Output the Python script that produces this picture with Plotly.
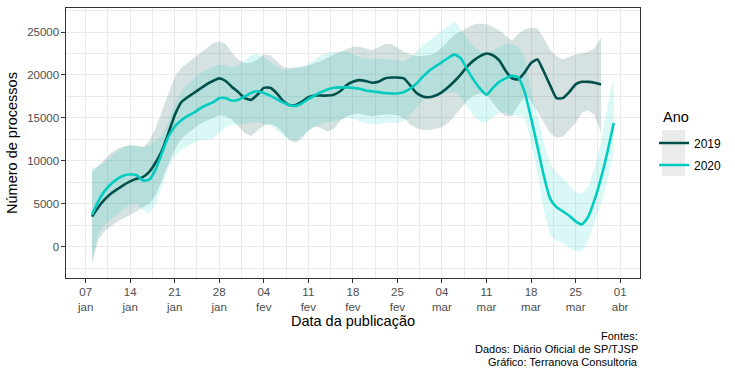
import pandas as pd
import plotly.graph_objects as go

# ---- data (values in number of processes; 2020 mapped onto the 2019 calendar) ----
dates_2019 = pd.date_range("2019-01-08", "2019-03-29", freq="D")
dates_2020 = pd.date_range("2019-01-08", "2019-03-31", freq="D")

mean_2019 = [3500, 4600, 5500, 6200, 6700, 7200, 7600, 7900, 8100, 8700,
             9800, 11200, 13200, 15300, 16800, 17400, 17900, 18400, 18900, 19300,
             19600, 19300, 18600, 18000, 17300, 17100, 17700, 18500, 18500, 17900,
             17000, 16500, 16500, 16900, 17400, 17600, 17600, 17600, 17700, 18100,
             18800, 19200, 19400, 19300, 19100, 19200, 19600, 19700, 19700, 19600,
             18800, 17900, 17500, 17400, 17600, 18000, 18600, 19300, 20100, 21000,
             21700, 22200, 22500, 22300, 21700, 20500, 19600, 19500, 20300, 21400,
             21800, 20400, 18800, 17300, 17300, 18000, 18900, 19200, 19200, 19100,
             18900]

lower_2019 = [-2000, 800, 1800, 2400, 2900, 3300, 3700, 4100, 4600, 5000,
              6000, 7800, 9600, 11300, 12500, 13200, 13800, 14300, 14700, 15000,
              15300, 15200, 14800, 14000, 13200, 12900, 13500, 14100, 14300, 14000,
              13300, 12400, 12100, 12600, 13500, 14000, 13800, 13400, 13700, 14600,
              15200, 15400, 15500, 15300, 15200, 15300, 15400, 15400, 15300, 15000,
              14200, 13800, 13600, 13600, 13700, 13900, 14400, 15200, 16100, 17000,
              17600, 17800, 17700, 16800, 15800, 15200, 15200, 16500, 17500, 17000,
              15800, 14500, 13200, 12700, 12800, 13600, 14400, 15600, 15900, 15300,
              13200]

upper_2019 = [8700, 9400, 10200, 10900, 11400, 11700, 11800, 11700, 11600, 12300,
              13800, 15800, 17800, 19800, 20800, 21400, 22000, 22500, 23100, 23700,
              23900, 23600, 22600, 21800, 21400, 21400, 21800, 22400, 22300, 21600,
              21000, 20800, 20900, 20900, 21100, 21400, 21600, 22000, 22400, 22700,
              23000, 23300, 23300, 23100, 22900, 23200, 23600, 23600, 23200, 22700,
              22400, 22200, 22200, 22300, 22600, 23200, 24000, 24700, 25100, 25500,
              25900, 26000, 25900, 25600, 25200, 24600, 24000, 24800, 25300, 25500,
              25400, 24300, 22900, 22200, 21800, 22100, 22400, 22500, 22700, 23100,
              24400]

mean_2020 = [3700, 5300, 6500, 7300, 7900, 8300, 8400, 8350, 7700, 7800,
             9000, 10900, 12800, 14000, 14700, 15200, 15600, 16100, 16500, 16800,
             17300, 17300, 17000, 17100, 17500, 17900, 18100, 17900, 17600, 17200,
             16800, 16500, 16400, 16700, 17200, 17600, 18000, 18300, 18500, 18550,
             18550, 18500, 18400, 18200, 18100, 18000, 17900, 17850, 17850, 18000,
             18400, 19000, 19800, 20500, 21000, 21500, 22000, 22400, 21900, 20600,
             19400, 18400, 17700, 18500, 19200, 19600, 19900, 19700, 18000, 15000,
             11700, 8300, 5600, 4600, 4100, 3600, 2950, 2600, 3500, 5500,
             8000, 11000, 14400]

lower_2020 = [-1500, 1500, 2600, 3200, 3800, 4400, 4900, 5000, 4300, 3800,
              5000, 7000, 9200, 10600, 11300, 11700, 12100, 12400, 12500, 12600,
              13300, 13900, 14200, 14300, 14300, 14500, 14500, 14300, 14100, 13600,
              13000, 12500, 12400, 12900, 13600, 14000, 14300, 14500, 14600, 14800,
              15000, 14900, 14600, 14400, 14300, 14300, 14400, 14400, 14400, 14600,
              15300, 16200, 17000, 17500, 17700, 17800, 17900, 18000, 17400, 16200,
              15200, 14600, 14400, 15100, 15600, 15600, 15300, 15200, 15000, 12200,
              8600, 4200, 1400, 700, 400, -100, -500, -600, 800, 3000,
              5000, 7600, 11100]

upper_2020 = [9200, 9300, 9800, 10500, 11100, 11600, 11800, 11800, 11600, 11700,
              12300, 13000, 14500, 16600, 18100, 19000, 19600, 20200, 20600, 21000,
              21200, 21100, 20900, 21100, 21700, 22300, 22500, 22100, 21500, 20900,
              20600, 20600, 20800, 21000, 21300, 21800, 22300, 22600, 22700, 22700,
              22700, 22400, 22100, 21900, 21900, 21900, 21800, 21800, 21700, 21600,
              22000, 22800, 23500, 24000, 24600, 25200, 25800, 26300, 25300, 24200,
              23300, 22800, 22500, 22800, 23300, 23600, 23600, 23300, 22000, 18300,
              15300, 12100, 9700, 8600, 8000, 7200, 6400, 6200, 7000, 9200,
              12200, 16200, 20000]

tick_dates = ["2019-01-07", "2019-01-14", "2019-01-21", "2019-01-28", "2019-02-04",
              "2019-02-11", "2019-02-18", "2019-02-25", "2019-03-04", "2019-03-11",
              "2019-03-18", "2019-03-25", "2019-04-01"]
tick_labels = ["07<br>jan", "14<br>jan", "21<br>jan", "28<br>jan", "04<br>fev",
               "11<br>fev", "18<br>fev", "25<br>fev", "04<br>mar", "11<br>mar",
               "18<br>mar", "25<br>mar", "01<br>abr"]
y_ticks = [0, 5000, 10000, 15000, 20000, 25000]

legend_title = "Ano"
caption_lines = ["Fontes:", "Dados: Diário Oficial de SP/TJSP", "Gráfico: Terranova Consultoria"]

# ---- styles ----
C2019 = "#00504C"
C2020 = "#00CCBF"
FILL2019 = "rgba(0,72,68,0.16)"
FILL2020 = "rgba(0,205,195,0.15)"
FONT = "Liberation Sans"

fig = go.Figure()


def ribbon(dates, lo, hi, fill):
    xs = list(dates) + list(dates[::-1])
    ys = list(hi) + list(lo[::-1])
    return go.Scatter(x=xs, y=ys, fill="toself", fillcolor=fill, mode="lines",
                      line=dict(width=0, color="rgba(0,0,0,0)"),
                      hoverinfo="skip", showlegend=False)


fig.add_trace(ribbon(dates_2019, lower_2019, upper_2019, FILL2019))
fig.add_trace(ribbon(dates_2020, lower_2020, upper_2020, FILL2020))

fig.add_trace(go.Scatter(x=dates_2019, y=mean_2019, mode="lines", name="2019", legendgroup="a",
                         line=dict(color=C2019, width=2.6, shape="spline", smoothing=0.5)))
fig.add_trace(go.Scatter(x=dates_2020, y=mean_2020, mode="lines", name="2020", legendgroup="b",
                         line=dict(color=C2020, width=2.6, shape="spline", smoothing=0.5)))

W, H = 735, 375
ML, MR, MT, MB = 66, 95, 8, 97
pw, ph = W - ML - MR, H - MT - MB


def px2paper_x(px):
    return (px - ML) / pw


def px2paper_y(py):
    return (H - MB - py) / ph


axis_common = dict(
    showline=True, mirror=True, linecolor="#333333", linewidth=1.1,
    ticks="outside", ticklen=3.5, tickwidth=1.1, tickcolor="#333333",
    showgrid=True, gridcolor="#EBEBEB", gridwidth=1.1,
    tickfont=dict(family=FONT, size=11.5, color="#4D4D4D"),
    zeroline=False,
)

fig.update_layout(
    width=W, height=H,
    margin=dict(l=ML, r=MR, t=MT, b=MB, autoexpand=False),
    paper_bgcolor="white", plot_bgcolor="white",
    font=dict(family=FONT, color="black"),
    xaxis=dict(
        **axis_common,
        type="date",
        range=["2019-01-03 22:00", "2019-04-04 03:00"],
        tickmode="array", tickvals=tick_dates, ticktext=tick_labels,
        minor=dict(tickmode="linear", tick0="2019-01-03 12:00", dtick=7 * 86400000,
                   showgrid=True, gridcolor="#EBEBEB", gridwidth=0.55, ticks=""),
        title=dict(text="Data da publicação", font=dict(family=FONT, size=14.5, color="black"),
                   standoff=0),
        automargin=True,
    ),
    yaxis=dict(
        **axis_common,
        range=[-3650, 27800],
        tickmode="array", tickvals=y_ticks, ticktext=[str(v) for v in y_ticks],
        minor=dict(tickmode="linear", tick0=2500, dtick=5000,
                   showgrid=True, gridcolor="#EBEBEB", gridwidth=0.55, ticks=""),
        title=dict(text="Número de processos", font=dict(family=FONT, size=14.5, color="black"),
                   standoff=6),
        automargin=False,
    ),
    legend=dict(
        font=dict(family=FONT, size=12, color="black"),
        x=px2paper_x(654), y=px2paper_y(128.5), xanchor="left", yanchor="top",
        bgcolor="rgba(0,0,0,0)", itemwidth=30, tracegroupgap=3,
    ),
    showlegend=True,
)

# legend title
fig.add_annotation(text=legend_title, xref="paper", yref="paper",
                   x=px2paper_x(661), y=px2paper_y(117), xanchor="left", yanchor="middle",
                   showarrow=False, font=dict(family=FONT, size=14.5, color="black"))

# grey legend-key background
fig.add_shape(type="rect", xref="paper", yref="paper",
              x0=px2paper_x(662), x1=px2paper_x(685),
              y0=px2paper_y(176), y1=px2paper_y(130),
              fillcolor="#EBEBEB", line=dict(width=0), layer="below")

# caption
for i, line in enumerate(caption_lines):
    fig.add_annotation(text=line, xref="paper", yref="paper",
                       x=1.0, y=px2paper_y(336 + 13 * i), xanchor="right", yanchor="middle",
                       showarrow=False, font=dict(family=FONT, size=11, color="black"))

fig.write_html("out.html", config={"displayModeBar": False},
               post_script="document.body.style.margin='0';document.body.style.padding='0';")
